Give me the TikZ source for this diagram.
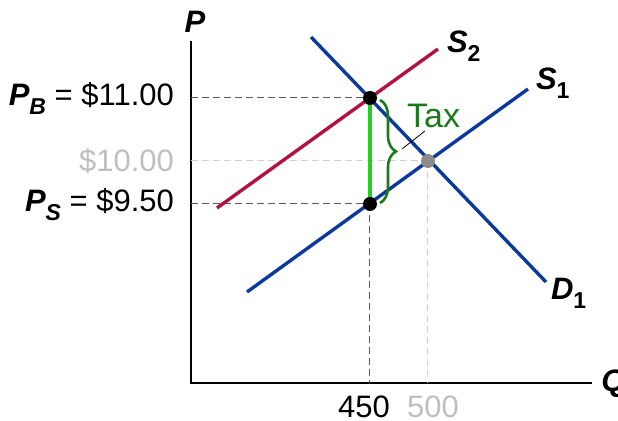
\documentclass[tikz,border=0pt]{standalone}
\usepackage{fontspec}
\setmainfont{Liberation Sans}
\usetikzlibrary{decorations.pathreplacing,positioning}
\definecolor{supred}{HTML}{B3123C}
\definecolor{curveblue}{HTML}{0B3A9C}
\definecolor{taxgreen}{HTML}{1B7A1B}
\definecolor{gapgreen}{HTML}{22D022}
\newcommand\lowidx[1]{\raisebox{-0.55ex}{\fontsize{11.5}{13}\selectfont #1}}

\begin{document}
\begin{tikzpicture}[x=0.5pt, y=-0.5pt, every node/.style={font=\fontsize{15.5}{18}\selectfont}, curve/.style={line width=1.7pt}, guide/.style={dash pattern=on 3.5pt off 2pt, line width=0.5pt, draw=black!65}, oldguide/.style={guide, draw=black!18}, dot/.style={circle, fill=black, inner sep=0pt, minimum size=7pt}, lbl/.style={font=\fontsize{15.5}{18}\selectfont\bfseries\itshape}]
\useasboundingbox (0,0) rectangle (618,421);
% axes
\coordinate (o) at (191,383);
\coordinate (ytop) at (191,41);
\coordinate (xend) at (592,383);
\draw[line width=1.3pt] (ytop) -- (o) -- (xend);
\node[lbl] (plbl) at (195,22) {P};
\node[lbl, anchor=west, inner sep=0pt] (qlbl) at (601,384) {Q};
% equilibrium points
\coordinate (pb) at (370,98);
\coordinate (ps) at (370,204);
\coordinate (eq) at (428,161);
% guide lines
\draw[oldguide] (o |- eq) -- (eq);
\draw[oldguide] (eq) -- (eq |- o);
\draw[guide] (o |- pb) -- (pb);
\draw[guide] (o |- ps) -- (ps);
\draw[guide] (ps) -- (ps |- o);
% curves
\coordinate (s2a) at (217,208);
\coordinate (s2b) at (438,49);
\coordinate (s1a) at (247,292);
\coordinate (s1b) at (528,89);
\coordinate (d1a) at (311,37);
\coordinate (d1b) at (546,282);
\draw[curve, supred] (s2a) -- (s2b);
\draw[curve, curveblue] (s1a) -- (s1b);
\draw[curve, curveblue] (d1a) -- (d1b);
\node[lbl, anchor=west] (s2lbl) at (440,46) {S\lowidx{\upshape 2}};
\node[lbl, anchor=west] (s1lbl) at (529,83) {S\lowidx{\upshape 1}};
\node[lbl, anchor=west] (d1lbl) at (544,293) {D\lowidx{\upshape 1}};
% tax wedge
\draw[gapgreen, line width=1.7pt] (pb) -- (ps);
\draw[taxgreen, line width=1.3pt, decorate, decoration={brace, amplitude=8pt}] (380,100) -- (380,203);
\coordinate (taxtip) at (402,149);
\node[anchor=west, text=taxgreen, font=\fontsize{17}{19}\selectfont] (tax) at (400,116) {Tax};
\draw[line width=0.4pt] (taxtip) -- (425,131);
\node[dot] (pbdot) at (pb) {};
\node[dot] (psdot) at (ps) {};
\node[dot, fill=black!45] (eqdot) at (eq) {};
% axis values
\node[anchor=east] (pblbl) at (181,99) {{\bfseries\itshape P\lowidx{B}} = \$11.00};
\node[anchor=east, text=black!25] (eqplbl) at (181,161) {\$10.00};
\node[anchor=east] (pslbl) at (181,205) {{\bfseries\itshape P\lowidx{S}} = \$9.50};
\node (qtax) at (364,407) {450};
\node[text=black!25] (qeq) at (433,407) {500};
\end{tikzpicture}
\end{document}
